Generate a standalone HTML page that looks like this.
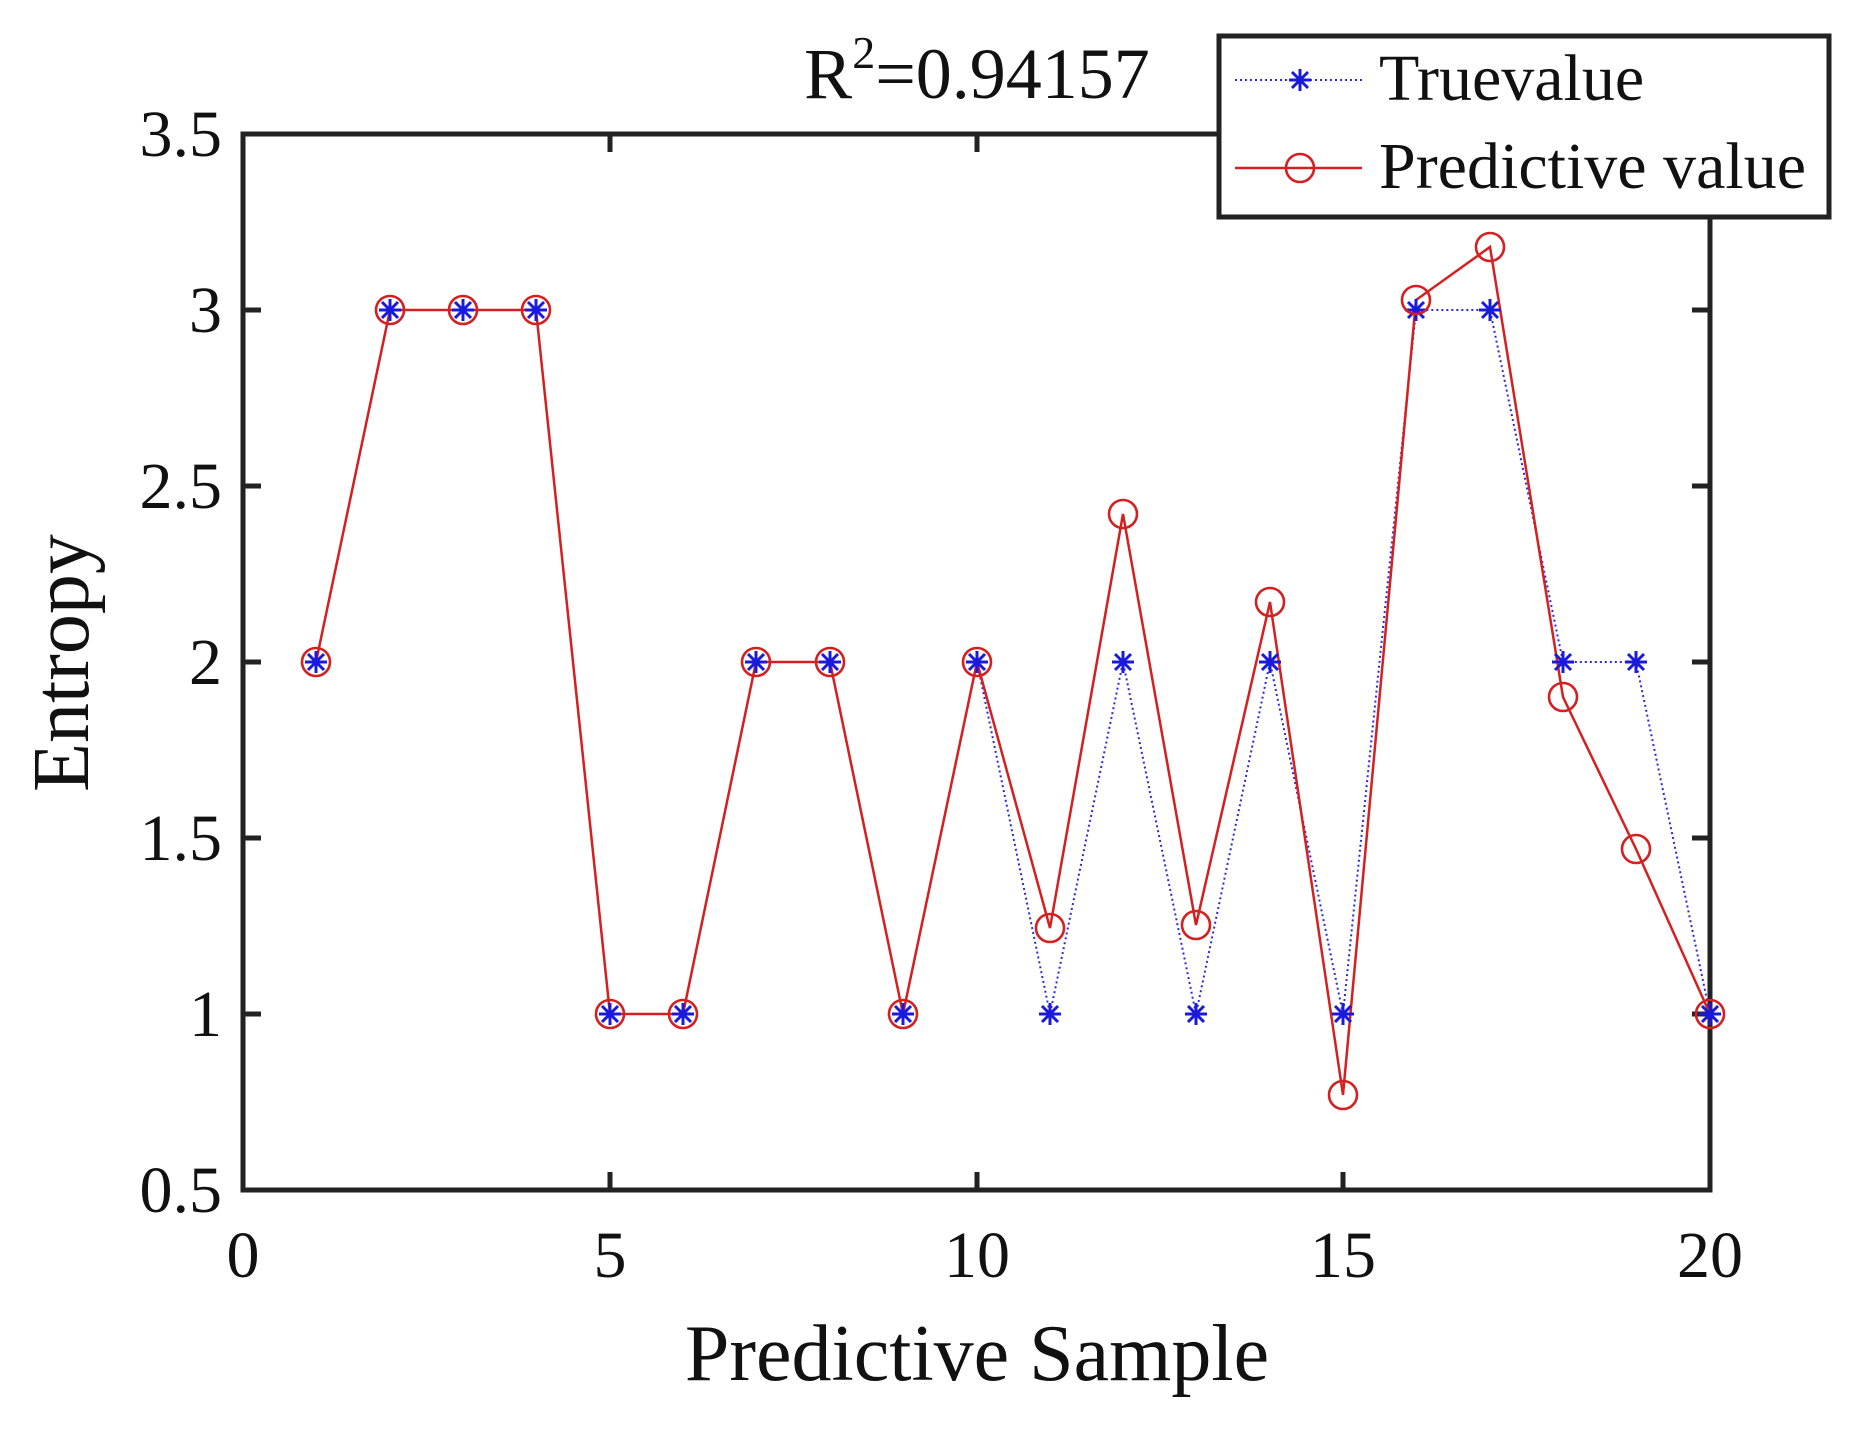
<!DOCTYPE html>
<html><head><meta charset="utf-8"><style>body{margin:0;background:#fff}svg{display:block}text{font-family:"Liberation Serif",serif;fill:#111}</style></head>
<body>
<svg width="1856" height="1430" viewBox="0 0 1856 1430" xmlns="http://www.w3.org/2000/svg">
<defs>
<g id="st"><path d="M-11,0H11M0,-11V11M-8,-8L8,8M-8,8L8,-8" stroke="#1a1adc" stroke-width="3"/></g>
<g id="ci"><circle r="14" fill="none" stroke="#d42020" stroke-width="2.6"/></g>
</defs>
<rect x="243" y="134" width="1467" height="1056" fill="none" stroke="#222" stroke-width="5"/>
<g stroke="#222" stroke-width="5">
<path d="M243,1190v-18M243,134v18M610,1190v-18M610,134v18M977,1190v-18M977,134v18M1343,1190v-18M1343,134v18M1710,1190v-18M1710,134v18"/>
<path d="M243,1190h18M1710,1190h-18M243,1014h18M1710,1014h-18M243,838h18M1710,838h-18M243,662h18M1710,662h-18M243,486h18M1710,486h-18M243,310h18M1710,310h-18M243,134h18M1710,134h-18"/>
</g>
<g font-size="66" text-anchor="middle">
<text x="243" y="1277">0</text><text x="610" y="1277">5</text><text x="977" y="1277">10</text><text x="1343" y="1277">15</text><text x="1710" y="1277">20</text>
</g>
<g font-size="66" text-anchor="end">
<text x="222" y="1212">0.5</text><text x="222" y="1036">1</text><text x="222" y="860">1.5</text><text x="222" y="684">2</text><text x="222" y="508">2.5</text><text x="222" y="332">3</text><text x="222" y="156">3.5</text>
</g>
<text x="977" y="1380" font-size="80" text-anchor="middle">Predictive Sample</text>
<text transform="translate(88,663) rotate(-90)" font-size="80" text-anchor="middle">Entropy</text>
<text x="977" y="98" font-size="72" text-anchor="middle">R<tspan font-size="46" dy="-30">2</tspan><tspan dy="30">=0.94157</tspan></text>
<polyline fill="none" stroke="#2a2ad8" stroke-width="2" stroke-dasharray="2,3" points="316,662 390,310 463,310 536,310 610,1014 683,1014 756,662 830,662 903,1014 977,662 1050,1014 1123,662 1196,1014 1270,662 1343,1014 1416,310 1490,310 1563,662 1636,662 1710,1014"/>
<polyline fill="none" stroke="#d42020" stroke-width="2.5" points="316,662 390,310 463,310 536,310 610,1014 683,1014 756,662 830,662 903,1014 977,662 1050,928 1123,514 1196,925 1270,602 1343,1095 1416,300 1490,247 1563,697 1636,849 1710,1014"/>
<g>
<use href="#st" x="316" y="662"/><use href="#st" x="390" y="310"/><use href="#st" x="463" y="310"/><use href="#st" x="536" y="310"/><use href="#st" x="610" y="1014"/><use href="#st" x="683" y="1014"/><use href="#st" x="756" y="662"/><use href="#st" x="830" y="662"/><use href="#st" x="903" y="1014"/><use href="#st" x="977" y="662"/><use href="#st" x="1050" y="1014"/><use href="#st" x="1123" y="662"/><use href="#st" x="1196" y="1014"/><use href="#st" x="1270" y="662"/><use href="#st" x="1343" y="1014"/><use href="#st" x="1416" y="310"/><use href="#st" x="1490" y="310"/><use href="#st" x="1563" y="662"/><use href="#st" x="1636" y="662"/><use href="#st" x="1710" y="1014"/>
</g>
<g>
<use href="#ci" x="316" y="662"/><use href="#ci" x="390" y="310"/><use href="#ci" x="463" y="310"/><use href="#ci" x="536" y="310"/><use href="#ci" x="610" y="1014"/><use href="#ci" x="683" y="1014"/><use href="#ci" x="756" y="662"/><use href="#ci" x="830" y="662"/><use href="#ci" x="903" y="1014"/><use href="#ci" x="977" y="662"/><use href="#ci" x="1050" y="928"/><use href="#ci" x="1123" y="514"/><use href="#ci" x="1196" y="925"/><use href="#ci" x="1270" y="602"/><use href="#ci" x="1343" y="1095"/><use href="#ci" x="1416" y="300"/><use href="#ci" x="1490" y="247"/><use href="#ci" x="1563" y="697"/><use href="#ci" x="1636" y="849"/><use href="#ci" x="1710" y="1014"/>
</g>
<rect x="1219" y="36" width="610" height="181" fill="#fff" stroke="#222" stroke-width="5"/>
<line x1="1235" y1="80" x2="1362" y2="80" stroke="#2a2ad8" stroke-width="2" stroke-dasharray="2,3"/>
<use href="#st" x="1300" y="80"/>
<line x1="1235" y1="168" x2="1362" y2="168" stroke="#d42020" stroke-width="2.5"/>
<use href="#ci" x="1300" y="168"/>
<text x="1379" y="100" font-size="66">Truevalue</text>
<text x="1379" y="188" font-size="66">Predictive value</text>
</svg>
</body></html>
